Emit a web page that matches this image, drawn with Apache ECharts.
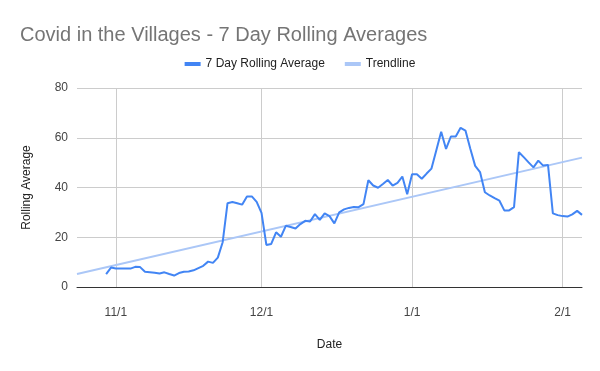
<!DOCTYPE html>
<html>
<head>
<meta charset="utf-8">
<script src="https://cdn.jsdelivr.net/npm/echarts@6/dist/echarts.min.js"></script>
<style>
html,body{margin:0;padding:0;background:#fff;}
#chart{width:600px;height:371px;}
</style>
</head>
<body>
<div id="chart"></div>
<script>
// Day offsets are counted from 11/1 (Oct 30 = -2)
var firstDay = -2;
var rollingAvg = [
  5.2, 7.8,
  7.4, 7.4, 7.4, 7.4, 8.1, 8.0, 6.1, 5.9, 5.7, 5.4, 5.9, 5.2, 4.6, 5.6, 6.1, 6.2,
  6.7, 7.6, 8.5, 10.2, 9.7, 11.8, 18.0, 33.7, 34.2, 33.7, 33.1, 36.4, 36.4, 34.2,
  29.8, 16.9, 17.3, 22.0, 20.2, 24.6, 24.1, 23.5, 25.3, 26.6, 26.3, 29.3, 27.0, 29.6,
  28.5, 25.6, 30.0, 31.2, 31.8, 32.2, 32.1, 33.3, 42.9, 40.8, 39.9, 41.4, 43.0, 40.8,
  41.9, 44.4, 37.3,
  45.3, 45.3, 43.5, 45.6, 47.6, 55.0, 62.4, 55.5, 60.5, 60.5, 64.0, 62.9, 55.6, 48.7,
  46.2, 38.1, 36.8, 35.7, 34.7, 30.8, 30.8, 32.1, 54.2, 52.2, 50.1, 48.1, 50.8, 48.8,
  49.1, 29.6, 28.9,
  28.5, 28.3, 29.2, 30.6, 29.0
];
var trendDays = [-8, 96];
var trendValues = [5.2, 52.0];
var xTickDays = [0, 30, 61, 92];
var xTickLabels = ['11/1', '12/1', '1/1', '2/1'];
var yTicks = [0, 20, 40, 60, 80];

var avgData = rollingAvg.map(function (v, i) { return [firstDay + i, v]; });
var trendData = trendDays.map(function (d, i) { return [d, trendValues[i]]; });

var font = 'Liberation Sans, Arial, sans-serif';
var chart = echarts.init(document.getElementById('chart'), null, {renderer: 'canvas'});
chart.setOption({
  animation: false,
  title: {
    text: 'Covid in the Villages - 7 Day Rolling Averages',
    left: 15, top: 20,
    textStyle: {fontFamily: font, fontSize: 20, fontWeight: 'normal', color: '#757575'}
  },
  legend: {
    top: 53, left: 'center',
    itemWidth: 16, itemHeight: 4, itemGap: 20,
    icon: 'rect',
    textStyle: {fontFamily: font, fontSize: 12, color: '#222'},
    data: ['7 Day Rolling Average', 'Trendline']
  },
  grid: {left: 77, right: 18, top: 88, bottom: 84, containLabel: false},
  xAxis: {
    type: 'value',
    min: trendDays[0], max: trendDays[1],
    name: 'Date', nameLocation: 'middle', nameGap: 52,
    nameTextStyle: {fontFamily: font, fontSize: 12, color: '#222'},
    axisLine: {show: true, lineStyle: {color: '#333', width: 1}},
    axisTick: {show: false, customValues: xTickDays},
    axisLabel: {
      customValues: xTickDays,
      fontFamily: font, fontSize: 12, color: '#444', margin: 20,
      formatter: function (v) { var k = xTickDays.indexOf(v); return k >= 0 ? xTickLabels[k] : ''; }
    },
    splitLine: {show: true, lineStyle: {color: '#cccccc', width: 1}}
  },
  yAxis: {
    type: 'value', min: yTicks[0], max: yTicks[yTicks.length - 1], interval: 20,
    name: 'Rolling Average', nameLocation: 'middle', nameGap: 44,
    nameTextStyle: {fontFamily: font, fontSize: 12, color: '#222'},
    axisLine: {show: false}, axisTick: {show: false},
    axisLabel: {fontFamily: font, fontSize: 12, color: '#444', margin: 9},
    splitLine: {lineStyle: {color: '#cccccc', width: 1}}
  },
  series: [
    {
      name: '7 Day Rolling Average', type: 'line', data: avgData,
      showSymbol: false, symbol: 'none', z: 3,
      lineStyle: {color: '#4285F4', width: 2}, itemStyle: {color: '#4285F4'}
    },
    {
      name: 'Trendline', type: 'line', data: trendData,
      showSymbol: false, symbol: 'none', z: 2,
      lineStyle: {color: '#abc7f7', width: 2}, itemStyle: {color: '#abc7f7'}
    }
  ]
});
</script>
</body>
</html>
